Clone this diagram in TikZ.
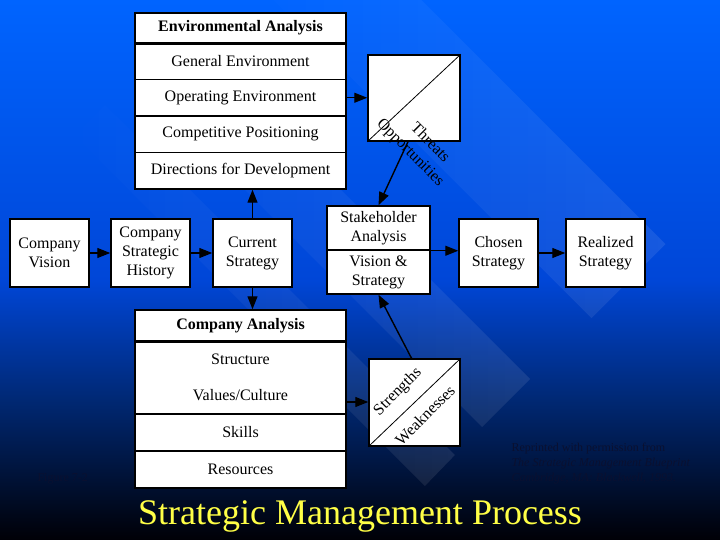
\documentclass[tikz,border=0pt]{standalone}
\usepackage{fontspec}
\setmainfont{Liberation Serif}
\usetikzlibrary{arrows.meta, positioning, calc, fadings}
\definecolor{bgtop}{RGB}{0,100,255}
\definecolor{bgmid}{RGB}{0,70,215}
\definecolor{bglow}{RGB}{0,40,115}
\definecolor{bgbot}{RGB}{0,0,6}
\definecolor{titleyellow}{RGB}{255,255,70}
\definecolor{notecol}{RGB}{10,16,48}

\begin{document}
\begin{tikzpicture}[x=1pt, y=-1pt,
    box/.style={draw=black, fill=white, line width=1.5pt, inner sep=0pt, align=center,
      font=\fontsize{16}{19}\selectfont},
    smallbox/.style={box, minimum width=79pt, minimum height=68pt},
    cell/.style={box, minimum width=211pt},
    arr/.style={-{Triangle[length=13pt,width=10pt]}, line width=1.4pt},
    diag/.style={font=\fontsize{16}{19}\selectfont},
    band/.style={white, opacity=0.09, path fading=west},
    note/.style={anchor=base west, text=notecol, font=\fontsize{12}{15}\selectfont}]
  \useasboundingbox (0,0) rectangle (720,540);

  % Slide background
  \shade[top color=bgtop, bottom color=bgmid] (0,0) rectangle (720,281);
  \shade[top color=bgmid, bottom color=bglow] (0,280) rectangle (720,401);
  \shade[top color=bglow, bottom color=bgbot] (0,400) rectangle (720,540);
  \begin{scope}
    \clip (0,0) rectangle (720,540);
    \fill[band] (666,244) -- (592,318) -- (242,-32) -- (316,-106) -- cycle;
    \fill[band] (530,379) -- (482,427) -- (132,77) -- (180,29) -- cycle;
    \fill[band] (455,455) -- (425,486) -- (75,136) -- (105,105) -- cycle;
  \end{scope}

  % Environmental analysis table
  \node[cell, minimum height=30pt, font=\fontsize{16}{19}\selectfont\bfseries] (envhead) at (240.5,28) {Environmental Analysis};
  \node[cell, minimum height=36.5pt] (envgen) at (240.5,61.25) {General Environment};
  \node[cell, minimum height=36.5pt] (envop) at (240.5,97.75) {Operating Environment};
  \node[cell, minimum height=36.5pt] (envcomp) at (240.5,134.25) {Competitive Positioning};
  \node[cell, minimum height=36.5pt] (envdir) at (240.5,170.75) {Directions for Development};
  \draw[line width=2.2pt] (envhead.south west) -- (envhead.south east);

  % Company analysis table
  \node[cell, minimum height=31pt, font=\fontsize{16}{19}\selectfont\bfseries] (comphead) at (240.5,325.5) {Company Analysis};
  \node[cell, minimum height=73pt] (compstruct) at (240.5,377.5) {Structure\\[17pt]Values/Culture};
  \node[cell, minimum height=37pt] (compskills) at (240.5,432.5) {Skills};
  \node[cell, minimum height=37pt] (compres) at (240.5,469.5) {Resources};
  \draw[line width=2.2pt] (comphead.south west) -- (comphead.south east);

  % Main strategy chain
  \node[smallbox] (vision) at (49.5,253) {Company\\Vision};
  \node[smallbox] (history) at (150.5,253) {Company\\Strategic\\History};
  \node[smallbox] (current) at (252.5,253) {Current\\Strategy};
  \node[box, minimum width=103pt, minimum height=44pt] (stakeA) at (378.5,228) {Stakeholder\\Analysis};
  \node[box, minimum width=103pt, minimum height=44pt] (stakeB) at (378.5,272) {Vision \&\\Strategy};
  \node[smallbox] (chosen) at (498.5,253) {Chosen\\Strategy};
  \node[smallbox] (realized) at (605.5,253) {Realized\\Strategy};

  % Threats / opportunities
  \node[box, minimum width=92pt, minimum height=86pt] (tobox) at (414,98) {};
  \draw[line width=0.8pt] (tobox.south west) -- (tobox.north east);
  \node[diag, rotate=-45] (threats) at (431,142) {Threats};
  \node[diag, rotate=-45] (opps) at (410,153) {Opportunities};

  % Strengths / weaknesses
  \node[box, minimum width=91pt, minimum height=87pt] (swbox) at (414.5,402.5) {};
  \draw[line width=0.8pt] (swbox.south west) -- (swbox.north east);
  \node[diag, rotate=45] (strengths) at (398,392) {Strengths};
  \node[diag, rotate=45] (weak) at (425,415) {Weaknesses};

  % Connectors
  \coordinate (csout) at ($(compstruct.east)+(0,24.5)$);
  \draw[arr] (vision) -- (history);
  \draw[arr] (history) -- (current);
  \draw[arr] (current.north) -- (envdir.south -| current.north);
  \draw[arr] (current.south) -- (comphead.north -| current.south);
  \draw[arr] (envop.east) -- (envop.east -| tobox.west);
  \draw[arr] (csout) -- (csout -| swbox.west);
  \draw[arr] ([xshift=-6pt]tobox.south) -- (stakeA.north);
  \draw[arr] ([xshift=-3pt]swbox.north) -- (stakeB.south);
  \draw[arr] (stakeA.south east) -- (stakeA.south east -| chosen.west);
  \draw[arr] (chosen) -- (realized);

  % Captions
  \node[note] (fig) at (34,481) {Figure 7-2};
  \node[note] (note1) at (508,451) {Reprinted with permission from};
  \node[note] (note2) at (508,466) {\textit{The Strategic Management Blueprint}};
  \node[note] (note3) at (508,481) {\textit{Cambridge, MA: Blackwell, 1993.}};
  \node[anchor=base, text=titleyellow, font=\fontsize{36}{40}\selectfont] (title) at (360,524) {Strategic Management Process};
\end{tikzpicture}
\end{document}
